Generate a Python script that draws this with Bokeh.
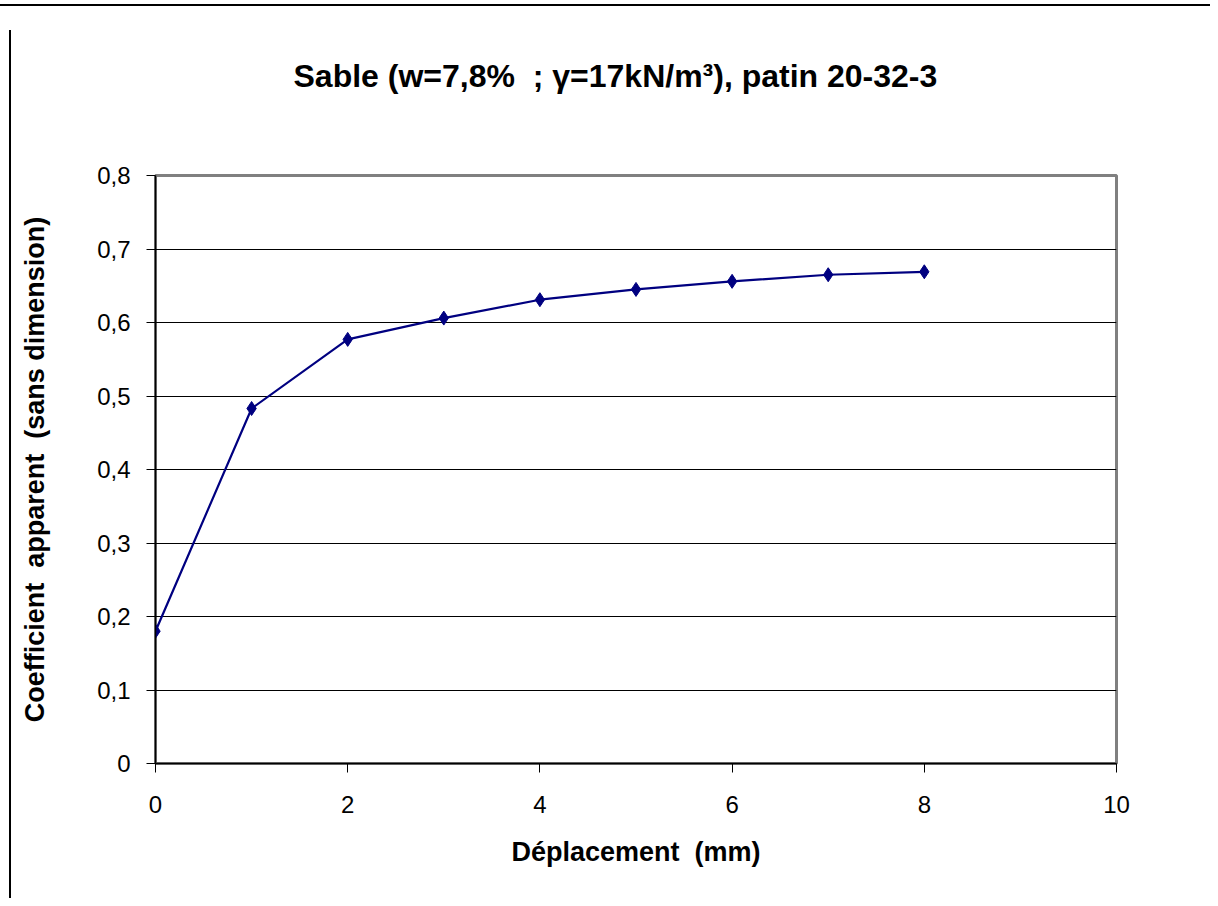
from bokeh.plotting import figure
from bokeh.models import FixedTicker, Range1d, InlineStyleSheet
from bokeh.embed import file_html
from bokeh.resources import INLINE

title_text = "Sable (w=7,8%\u00a0\u00a0; \u03b3=17kN/m\u00b3), patin 20-32-3"
x_label = "Déplacement\u00a0\u00a0(mm)"
y_label = "Coefficient\u00a0\u00a0apparent\u00a0\u00a0(sans dimension)"

deplacement = [0, 1, 2, 3, 4, 5, 6, 7, 8]
coefficient = [0.18, 0.483, 0.577, 0.606, 0.631, 0.645, 0.656, 0.665, 0.669]

x_ticks = [0, 2, 4, 6, 8, 10]
x_tick_labels = ["0", "2", "4", "6", "8", "10"]
y_ticks = [0, 0.1, 0.2, 0.3, 0.4, 0.5, 0.6, 0.7, 0.8]
y_tick_labels = ["0", "0,1", "0,2", "0,3", "0,4", "0,5", "0,6", "0,7", "0,8"]

FONT = "Liberation Sans"

css = InlineStyleSheet(css="""
:host { position: relative; }
:host::before { content: ''; position: absolute; left: 0; top: 4px; width: 100%; height: 0;
                border-top: 2px solid black; z-index: 10; }
:host::after { content: ''; position: absolute; left: 9px; top: 30px; bottom: 0; width: 0;
               border-left: 2px solid black; z-index: 10; }
""")

p = figure(width=1210, height=898, output_backend="svg", toolbar_location=None,
           x_range=Range1d(0, 10), y_range=Range1d(0, 0.8),
           min_border_left=155, min_border_right=94, min_border_top=175, min_border_bottom=135,
           stylesheets=[css])
p.background_fill_color = "white"
p.border_fill_color = "white"
p.outline_line_color = "#808080"
p.outline_line_width = 3

# trailing empty line lifts the title towards the top of the page
p.title.text = title_text + "\n\u00a0"
p.title.align = "left"
p.title.offset = 138
p.title.standoff = 92
p.title.text_font = FONT
p.title.text_font_size = "32px"
p.title.text_font_style = "bold"
p.title.text_color = "black"

for ax in (p.xaxis[0], p.yaxis[0]):
    ax.axis_line_color = "black"
    ax.axis_line_width = 1.5
    ax.major_tick_line_color = "black"
    ax.major_tick_in = 0
    ax.major_tick_out = 9
    ax.minor_tick_line_color = None
    ax.major_label_text_font = FONT
    ax.major_label_text_font_size = "24px"
    ax.major_label_text_color = "black"
    ax.axis_label_text_font = FONT
    ax.axis_label_text_font_style = "bold"
    ax.axis_label_text_color = "black"

p.xaxis.axis_label_text_font_size = "27px"
p.yaxis.axis_label_text_font_size = "27px"
p.xaxis.ticker = FixedTicker(ticks=x_ticks)
p.xaxis.major_label_overrides = {t: l for t, l in zip(x_ticks, x_tick_labels)}
p.yaxis.ticker = FixedTicker(ticks=y_ticks)
p.yaxis.major_label_overrides = {t: l for t, l in zip(y_ticks, y_tick_labels)}
p.xaxis.axis_label = x_label
p.yaxis.axis_label = y_label
p.xaxis.major_label_standoff = 23
p.xaxis.axis_label_standoff = 21
p.yaxis.major_label_standoff = 16
p.yaxis.axis_label_standoff = 44

p.xgrid.grid_line_color = None
p.ygrid.grid_line_color = "black"
p.ygrid.grid_line_width = 1.2

p.line(deplacement, coefficient, line_color="#000080", line_width=2.2)
p.scatter(deplacement, coefficient, marker="diamond", size=14, fill_color="#000080", line_color="#000080")

open("out.html", "w").write(file_html(p, INLINE))
